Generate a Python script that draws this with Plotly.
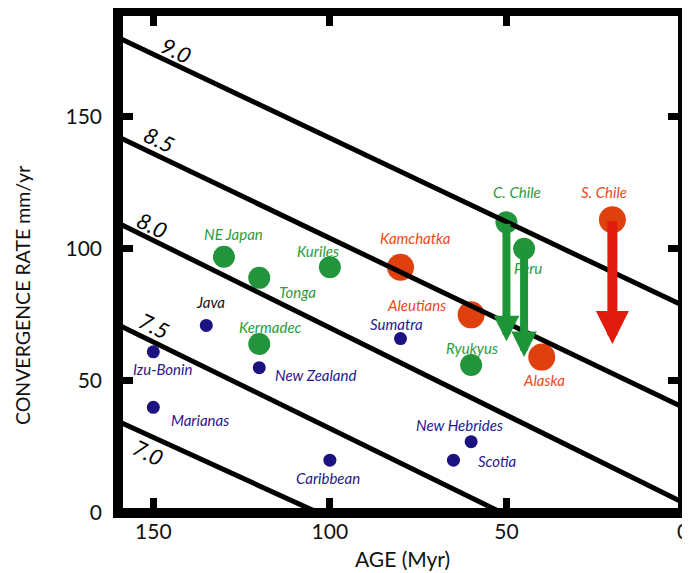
import plotly.graph_objects as go

# ---------------- data ----------------
names = ["NE Japan", "Tonga", "Kuriles", "Kermadec", "Ryukyus", "C. Chile", "Peru",
         "Kamchatka", "Aleutians", "Alaska", "S. Chile",
         "Java", "Izu-Bonin", "Marianas", "New Zealand", "Sumatra", "Caribbean",
         "New Hebrides", "Scotia"]
ages = [130, 120, 100, 120, 60, 50, 45,
        80, 60, 40, 20,
        135, 150, 150, 120, 80, 100, 60, 65]
rates = [97, 89, 93, 64, 56, 110, 100,
         93, 75, 59, 111,
         71, 61, 40, 55, 66, 20, 27, 20]
groups = ["green"] * 7 + ["red"] * 4 + ["blue"] * 8

arrow_names = ["C. Chile", "Peru", "S. Chile"]
arrow_end_rates = [65, 59, 64]

mag_labels = ["7.0", "7.5", "8.0", "8.5", "9.0"]
mag_rate_at_160 = [34.7, 71.3, 109.8, 142.4, 180.0]
mag_rate_at_0 = [-62.9, -33.5, 4.0, 40.0, 78.5]
mag_age_ends = [160, 0]

x_ticks = [150, 100, 50, 0]
y_ticks = [0, 50, 100, 150]

# ---------------- styles ----------------
FONT = "Lato"
marker_color = {"green": "#22943b", "red": "#e0400e", "blue": "#1d1282"}
marker_size = {"green": 22, "red": 27, "blue": 13}
text_color = {"green": "#2c9c3c", "red": "#ec4a1c", "blue": "#27188c"}
arrow_color = {"green": "#1e9438", "red": "#e01a0c"}

# label offsets in px (dx right, dy down)
label_offsets = {
    "NE Japan": (10, -23), "Tonga": (38, 14), "Kuriles": (-12, -16),
    "Kermadec": (11, -17), "Ryukyus": (1, -17), "C. Chile": (11, -30),
    "Peru": (4, 19), "Kamchatka": (15, -29), "Aleutians": (-55, -10),
    "Alaska": (2, 23), "S. Chile": (-8, -28), "Java": (4, -23),
    "Izu-Bonin": (10, 17), "Marianas": (47, 13), "New Zealand": (56, 7),
    "Sumatra": (-4, -15), "Caribbean": (-2, 18), "New Hebrides": (-12, -17),
    "Scotia": (44, 1),
}
mag_label_age = {"7.0": 151.4, "7.5": 149.8, "8.0": 150.1, "8.5": 148.3, "9.0": 143.4}
mag_label_shift = {"7.0": -17, "7.5": 17, "8.0": 15, "8.5": 17, "9.0": 15}

fig = go.Figure()

# points
for g in ["blue", "green", "red"]:
    idx = [i for i, gg in enumerate(groups) if gg == g]
    fig.add_trace(go.Scatter(
        x=[ages[i] for i in idx], y=[rates[i] for i in idx], mode="markers",
        marker=dict(color=marker_color[g], size=marker_size[g], line=dict(width=0)),
        showlegend=False, hoverinfo="skip"))

# magnitude lines (drawn over points)
for lab, y160, y0 in zip(mag_labels, mag_rate_at_160, mag_rate_at_0):
    fig.add_trace(go.Scatter(
        x=mag_age_ends, y=[y160, y0], mode="lines",
        line=dict(color="black", width=5), showlegend=False, hoverinfo="skip"))

annotations = []
# magnitude labels
for lab, y160, y0 in zip(mag_labels, mag_rate_at_160, mag_rate_at_0):
    xa = mag_label_age[lab]
    ya = y160 + (y0 - y160) * (160 - xa) / 160
    annotations.append(dict(
        x=xa, y=ya, xref="x", yref="y", text=lab, showarrow=False,
        xanchor="center", yanchor="middle",
        textangle=26, yshift=mag_label_shift[lab],
        font=dict(family=FONT, size=22, color="black", style="italic")))

# point labels
for n, a, r, g in zip(names, ages, rates, groups):
    dx, dy = label_offsets[n]
    col = "#111111" if n == "Java" else text_color[g]
    annotations.append(dict(
        x=a, y=r, xref="x", yref="y", text=n, showarrow=False,
        xanchor="center", yanchor="middle",
        xshift=dx, yshift=-dy,
        font=dict(family=FONT, size=15, color=col, style="italic")))

# arrows (drawn on top of labels)
for n, r_end in zip(arrow_names, arrow_end_rates):
    i = names.index(n)
    g = groups[i]
    w = 8 if g == "green" else 10
    sz = 0.64 if g == "green" else 0.66
    annotations.append(dict(
        x=ages[i], y=r_end, ax=ages[i], ay=rates[i], xref="x", yref="y",
        axref="x", ayref="y", text="", showarrow=True,
        arrowhead=2, arrowwidth=w, arrowsize=sz, arrowcolor=arrow_color[g],
        standoff=0, startstandoff=0))

# axis titles
annotations.append(dict(
    x=-0.170, y=0.434, xref="paper", yref="paper", text="CONVERGENCE RATE mm/yr",
    textangle=-90, showarrow=False, xanchor="center", yanchor="middle",
    font=dict(family=FONT, size=19.5, color="#111111")))
annotations.append(dict(
    x=0.503, y=-0.09, xref="paper", yref="paper", text="AGE (Myr)",
    showarrow=False, xanchor="center", yanchor="middle",
    font=dict(family=FONT, size=21, color="#111111")))

# the page body adds an 8px offset; size/margins compensate for it
fig.update_layout(
    width=682, height=565,
    margin=dict(l=110, r=7, t=3, b=60, autoexpand=False),
    paper_bgcolor="white", plot_bgcolor="white",
    annotations=annotations,
    shapes=[dict(type="rect", xref="paper", yref="paper", x0=0, x1=1, y0=0, y1=1,
                 line=dict(color="black", width=10), layer="above")],
)
fig.update_xaxes(
    range=[160, 0], tickvals=x_ticks, ticktext=[str(v) for v in x_ticks],
    ticks="inside", ticklen=15, tickwidth=7, tickcolor="black", mirror="ticks",
    showline=False, showgrid=False, zeroline=False, ticklabelstandoff=4,
    automargin=False,
    tickfont=dict(family=FONT, size=21, color="#111111"))
fig.update_yaxes(
    range=[0, 190], tickvals=y_ticks, ticktext=[str(v) for v in y_ticks],
    ticks="inside", ticklen=15, tickwidth=7, tickcolor="black", mirror="ticks",
    showline=False, showgrid=False, zeroline=False, ticklabelstandoff=15,
    automargin=False,
    tickfont=dict(family=FONT, size=21, color="#111111"))

fig.write_html("out.html")
